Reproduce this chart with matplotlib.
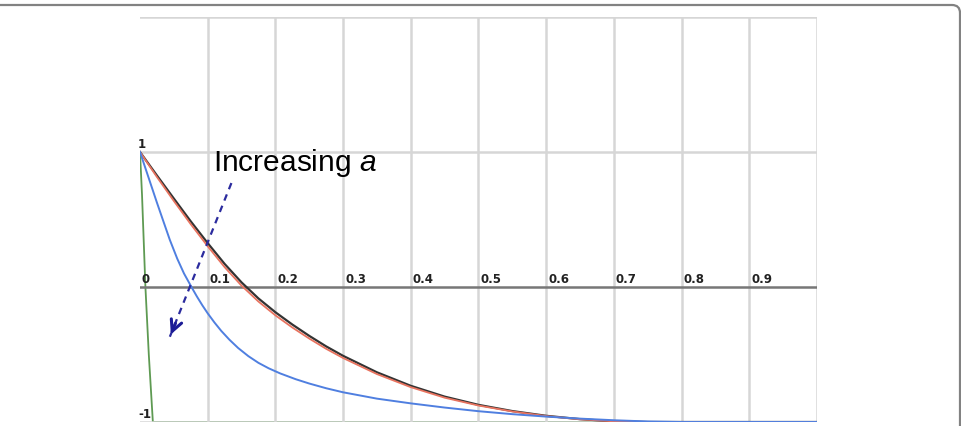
import matplotlib
matplotlib.use("Agg")
from matplotlib import pyplot as plt
from matplotlib.patches import FancyBboxPatch

plt.rcParams['mathtext.fontset'] = 'custom'
plt.rcParams['mathtext.rm'] = 'Liberation Sans'
plt.rcParams['mathtext.it'] = 'Liberation Sans:italic'

# curves (x, y)
green_x = [0.0, 0.003, 0.008, 0.013, 0.019, 0.5, 1.0]
green_y = [1.0, 0.68, 0.0, -0.5, -1.0, -1.0, -1.0]

blue_x = [0.0, 0.008, 0.015, 0.025, 0.035, 0.044, 0.055, 0.065, 0.076, 0.084, 0.092, 0.1, 0.11,
          0.12, 0.132, 0.145, 0.16, 0.175, 0.19, 0.207, 0.23, 0.25, 0.275, 0.3, 0.35, 0.4, 0.45,
          0.5, 0.55, 0.6, 0.65, 0.7, 0.75, 0.8, 1.0]
blue_y = [1.0, 0.88, 0.775, 0.625, 0.48, 0.35, 0.21, 0.1, 0.0, -0.07, -0.135, -0.195, -0.263,
          -0.325, -0.39, -0.452, -0.512, -0.562, -0.602, -0.64, -0.683, -0.715, -0.75, -0.78, -0.827,
          -0.862, -0.893, -0.92, -0.942, -0.96, -0.975, -0.987, -0.996, -1.0, -1.0]

black_x = [0.0, 0.025, 0.05, 0.075, 0.1, 0.125, 0.15, 0.175, 0.2, 0.225, 0.25, 0.275, 0.3,
           0.35, 0.4, 0.45, 0.5, 0.55, 0.6, 0.65, 0.7, 0.75, 1.0]
black_y = [1.0, 0.826, 0.655, 0.486, 0.325, 0.171, 0.034, -0.085, -0.187, -0.278, -0.362, -0.44,
           -0.51, -0.632, -0.732, -0.812, -0.873, -0.919, -0.954, -0.979, -0.995, -1.0, -1.0]

red_x = [0.0, 0.025, 0.05, 0.075, 0.1, 0.125, 0.15, 0.175, 0.2, 0.225, 0.25, 0.275, 0.3,
         0.35, 0.4, 0.45, 0.5, 0.55, 0.6, 0.65, 0.7, 0.75, 1.0]
red_y = [1.0, 0.815, 0.637, 0.465, 0.302, 0.147, 0.01, -0.108, -0.21, -0.3, -0.382, -0.458,
         -0.526, -0.645, -0.742, -0.82, -0.878, -0.922, -0.956, -0.98, -0.995, -1.0, -1.0]

x_ticks = [0.0, 0.1, 0.2, 0.3, 0.4, 0.5, 0.6, 0.7, 0.8, 0.9]
x_tick_labels = ['0', '0.1', '0.2', '0.3', '0.4', '0.5', '0.6', '0.7', '0.8', '0.9']
y_ticks = [1.0, -1.0]
y_tick_labels = ['1', '-1']

grid_x = [0.1, 0.2, 0.3, 0.4, 0.5, 0.6, 0.7, 0.8, 0.9, 1.0]
grid_y = [2.0, 1.0, -1.0]

arrow_start = (0.135, 0.77)
arrow_end = (0.044, -0.37)
label_pos = (0.108, 0.86)

fig = plt.figure(figsize=(9.62, 4.26), dpi=100)

# rounded frame round the figure
frame = FancyBboxPatch((-20, -20), 980, 441, boxstyle="round,pad=0,rounding_size=8",
                       transform=None, facecolor='none', edgecolor='#828282', linewidth=1.6,
                       zorder=10)
fig.patches.append(frame)

ax = fig.add_axes([140 / 962, 4 / 426, 677 / 962, 405 / 426])
ax.set_xlim(0, 1)
ax.set_ylim(-1, 2)
ax.axis('off')

for gx in grid_x:
    ax.axvline(gx, color='#d6d6d6', lw=1.8, zorder=1)
for gy in grid_y:
    ax.axhline(gy, color='#d6d6d6', lw=1.8, zorder=1)
ax.axhline(0, color='#777777', lw=1.8, zorder=2)

ax.plot(green_x, green_y, color='#5e9a52', lw=1.3, zorder=0.8)
ax.plot(black_x, black_y, color='#333333', lw=1.6, zorder=3)
ax.plot(red_x, red_y, color='#e8735f', lw=1.3, zorder=4)
ax.plot(blue_x, blue_y, color='#4f7fe0', lw=1.4, zorder=4)

for x, lab in zip(x_ticks, x_tick_labels):
    ax.annotate(lab, (x, 0), xytext=(2, 1), textcoords='offset pixels', ha='left', va='bottom',
                fontsize=8.5, fontweight='bold', color='#222222', zorder=6)
for y, lab in zip(y_ticks, y_tick_labels):
    ax.annotate(lab, (0, y), xytext=(-2, 1), textcoords='offset pixels', ha='left', va='bottom',
                fontsize=8.5, fontweight='bold', color='#222222', zorder=6, annotation_clip=False)

# dashed arrow with an open head
ax.plot([arrow_start[0], arrow_end[0]], [arrow_start[1], arrow_end[1]], color='#2b2b9e',
        lw=1.6, ls=(0, (3, 2.5)), zorder=6)
ax.annotate('', xy=arrow_end, xytext=(arrow_end[0] + 0.01, arrow_end[1] + 0.12),
            arrowprops=dict(arrowstyle='->', color='#1c1c96', lw=2.2, mutation_scale=20), zorder=6)

ax.text(label_pos[0], label_pos[1], r'Increasing $a$', fontsize=21.5, family='Liberation Sans',
        color='black', ha='left', va='baseline', zorder=7)

fig.savefig('out.png', dpi=100)
